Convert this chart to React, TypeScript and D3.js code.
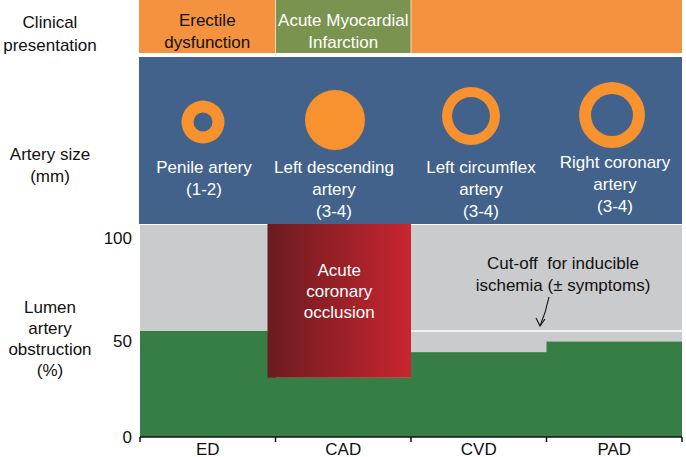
import React from "react";
import * as d3 from "d3";

const categories = ["ED", "CAD", "CVD", "PAD"];
const obstruction = [50, 28, 40, 45];
const occlusionTop = [null, 100, null, null];
const cutoffValue = 50;
const cutoffCategories = ["CVD", "PAD"];
const yTicks = [0, 50, 100];

const presentationSegments = [
  { from: "ED", to: "ED", lines: ["Erectile", "dysfunction"], kind: "orange" },
  { from: "CAD", to: "CAD", lines: ["Acute Myocardial", "Infarction"], kind: "green" },
  { from: "CVD", to: "PAD", lines: [], kind: "orange" },
];

const arteryNames = [
  ["Penile artery", "(1-2)"],
  ["Left descending", "artery", "(3-4)"],
  ["Left circumflex", "artery", "(3-4)"],
  ["Right coronary", "artery", "(3-4)"],
];
const arteryOuter = [21.5, 30, 29, 33];
const arteryInner = [9.5, 0, 19, 21];

const W = 686;
const H = 457;
const FONT = "'Liberation Sans', Arial, sans-serif";

export default function App() {
  const x = d3.scaleBand<string>().domain(categories).range([140, 682]).padding(0);
  const y = d3.scaleLinear().domain([0, 100]).range([437, 225]);
  const bw = x.bandwidth();
  const left = 140;
  const right = 682;

  const orange = "#f5923f";
  const topGreen = "#7a9450";
  const blue = "#42628c";
  const gray = "#cacbcd";
  const green = "#377d46";

  const circleCx = [203, 335, 471, 612];
  const circleCy = [122, 120, 116, 115];
  const labelCx = [204, 334, 481, 615];
  const labelY0 = [167, 167, 167, 162];
  const yLabelDy: Record<number, number> = { 0: 0, 50: 10, 100: 13 };

  const arc = d3.arc();

  return (
    <svg width={W} height={H} style={{ position: "absolute", left: 0, top: 0 }} fontFamily={FONT}>
      <defs>
        <linearGradient id="redGrad" x1="0" x2="1" y1="0" y2="0">
          <stop offset="0" stopColor="#6a1c1f" />
          <stop offset="1" stopColor="#c9252f" />
        </linearGradient>
      </defs>
      <rect width={W} height={H} fill="#fff" />

      {/* Clinical presentation row */}
      {presentationSegments.map((s, i) => {
        const x0 = x(s.from)! - (i === 0 ? 1 : 0);
        const x1 = x(s.to)! + bw;
        return (
          <g key={i}>
            <rect x={x0} y={0} width={x1 - x0} height={53} fill={s.kind === "green" ? topGreen : orange} />
            {s.lines.map((l, j) => (
              <text key={j} x={(x0 + x1) / 2} y={20 + j * 22} textAnchor="middle" dominantBaseline="central"
                fontSize={17} fill={s.kind === "green" ? "#fff" : "#111"}>{l}</text>
            ))}
          </g>
        );
      })}
      <line x1={x("CAD")! + bw} x2={x("CAD")! + bw} y1={0} y2={53} stroke="#f3d9b5" strokeWidth={1} />
      <line x1={x("CAD")!} x2={x("CAD")!} y1={0} y2={53} stroke="#f3d9b5" strokeWidth={1} />

      {/* Artery size row */}
      <rect x={left - 1} y={57} width={right - left + 1} height={167} fill={blue} />
      {categories.map((c, i) => (
        <g key={c}>
          <path
            transform={`translate(${circleCx[i]},${circleCy[i]})`}
            d={arc({ innerRadius: arteryInner[i], outerRadius: arteryOuter[i], startAngle: 0, endAngle: 2 * Math.PI } as any) as string}
            fill="#f7922f"
          />
          {arteryNames[i].map((l, j) => (
            <text key={j} x={labelCx[i]} y={labelY0[i] + j * 22} textAnchor="middle" dominantBaseline="central"
              fontSize={17} fill="#fff">{l}</text>
          ))}
        </g>
      ))}

      {/* Obstruction plot */}
      <rect x={left} y={y(100)} width={right - left} height={y(0) - y(100)} fill={gray} />
      {categories.map((c, i) => (
        <rect key={c} x={x(c)!} y={y(obstruction[i])} width={bw + (i < 3 ? 0.5 : 0)} height={y(0) - y(obstruction[i])} fill={green} />
      ))}
      {categories.map((c, i) =>
        occlusionTop[i] != null ? (
          <g key={"occ" + c}>
            <rect x={x(c)! - 8} y={y(occlusionTop[i] as number) - 1} width={bw + 8} height={y(obstruction[i]) - y(occlusionTop[i] as number) + 1} fill="url(#redGrad)" />
            {["Acute", "coronary", "occlusion"].map((l, j) => (
              <text key={j} x={x(c)! + bw / 2 - 4} y={270 + j * 21} textAnchor="middle" dominantBaseline="central" fontSize={17} fill="#fff">{l}</text>
            ))}
          </g>
        ) : null
      )}
      <line
        x1={x(cutoffCategories[0])!}
        x2={x(cutoffCategories[cutoffCategories.length - 1])! + bw}
        y1={y(cutoffValue)}
        y2={y(cutoffValue)}
        stroke="#fff"
        strokeWidth={1.5}
      />
      <text x={563} y={263} textAnchor="middle" dominantBaseline="central" fontSize={17} fill="#111">{"Cut-off\u00A0 for inducible"}</text>
      <text x={563} y={285} textAnchor="middle" dominantBaseline="central" fontSize={17} fill="#111">ischemia (± symptoms)</text>
      <path d="M549,297 Q546,312 540,326" fill="none" stroke="#111" strokeWidth={1.1} />
      <path d="M536,318 L540,326 L545,319" fill="none" stroke="#111" strokeWidth={1.1} />

      {/* X axis */}
      <line x1={left} x2={right} y1={y(0)} y2={y(0)} stroke="#111" strokeWidth={1.5} />
      {[...categories.map((c) => x(c)!), right].map((t, i) => (
        <line key={i} x1={t} x2={t} y1={y(0)} y2={y(0) + 5} stroke="#111" strokeWidth={1.5} />
      ))}
      {categories.map((c) => (
        <text key={c} x={x(c)! + bw / 2} y={449} textAnchor="middle" dominantBaseline="central" fontSize={17} fill="#111">{c}</text>
      ))}

      {/* Y axis labels */}
      {yTicks.map((t) => (
        <text key={t} x={132} y={y(t) + yLabelDy[t]} textAnchor="end" dominantBaseline="central" fontSize={17} fill="#111">{t}</text>
      ))}

      {/* Row labels */}
      {[
        { lines: ["Clinical", "presentation"], y0: 22, dy: 23 },
        { lines: ["Artery size", "(mm)"], y0: 154, dy: 22 },
        { lines: ["Lumen", "artery", "obstruction", "(%)"], y0: 307, dy: 21 },
      ].map((g, i) =>
        g.lines.map((l, j) => (
          <text key={i + "-" + j} x={50} y={g.y0 + j * g.dy} textAnchor="middle" dominantBaseline="central" fontSize={17} fill="#111">{l}</text>
        ))
      )}
    </svg>
  );
}
